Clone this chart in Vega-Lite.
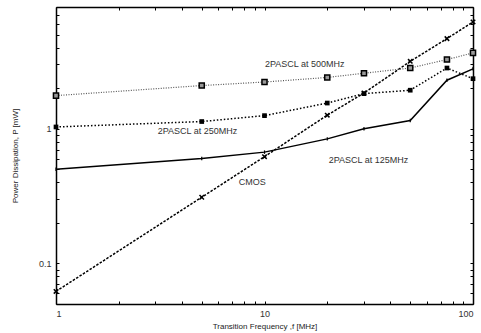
{
  "$schema": "https://vega.github.io/schema/vega-lite/v6.json",
  "width": 417,
  "height": 297,
  "autosize": {"type": "none"},
  "padding": {"left": 56, "top": 7, "right": 8, "bottom": 29},
  "background": "white",
  "config": {
    "view": {"stroke": null},
    "font": "Liberation Sans",
    "axis": {
      "grid": false,
      "domainColor": "black",
      "domainWidth": 1.5,
      "tickColor": "black",
      "tickWidth": 1,
      "labelFont": "Liberation Sans",
      "labelFontSize": 9,
      "labelColor": "#333",
      "titleFont": "Liberation Sans",
      "titleFontSize": 8,
      "titleFontWeight": "normal",
      "titleColor": "#222"
    }
  },
  "datasets": {
    "series": [
      {"series": "500", "f": 1, "p": 1.76},
      {"series": "500", "f": 5, "p": 2.09},
      {"series": "500", "f": 10, "p": 2.22},
      {"series": "500", "f": 20, "p": 2.40},
      {"series": "500", "f": 30, "p": 2.58},
      {"series": "500", "f": 50, "p": 2.82},
      {"series": "500", "f": 75, "p": 3.26},
      {"series": "500", "f": 100, "p": 3.65},
      {"series": "250", "f": 1, "p": 1.03},
      {"series": "250", "f": 5, "p": 1.13},
      {"series": "250", "f": 10, "p": 1.25},
      {"series": "250", "f": 20, "p": 1.55},
      {"series": "250", "f": 30, "p": 1.82},
      {"series": "250", "f": 50, "p": 1.93},
      {"series": "250", "f": 75, "p": 2.82},
      {"series": "250", "f": 100, "p": 2.35},
      {"series": "125", "f": 1, "p": 0.50},
      {"series": "125", "f": 5, "p": 0.60},
      {"series": "125", "f": 10, "p": 0.67},
      {"series": "125", "f": 20, "p": 0.84},
      {"series": "125", "f": 30, "p": 1.0},
      {"series": "125", "f": 50, "p": 1.15},
      {"series": "125", "f": 75, "p": 2.29},
      {"series": "125", "f": 100, "p": 2.78},
      {"series": "CMOS", "f": 1, "p": 0.062},
      {"series": "CMOS", "f": 5, "p": 0.31},
      {"series": "CMOS", "f": 10, "p": 0.62},
      {"series": "CMOS", "f": 20, "p": 1.26},
      {"series": "CMOS", "f": 30, "p": 1.84},
      {"series": "CMOS", "f": 50, "p": 3.16},
      {"series": "CMOS", "f": 75, "p": 4.66},
      {"series": "CMOS", "f": 100, "p": 6.2}
    ],
    "labels": [
      {"text": "2PASCL at 500MHz", "f": 15.6, "p": 3.02},
      {"text": "2PASCL at 250MHz", "f": 4.77, "p": 0.966},
      {"text": "2PASCL at 125MHz", "f": 31.5, "p": 0.589},
      {"text": "CMOS", "f": 8.74, "p": 0.40}
    ]
  },
  "layer": [
    {
      "data": {"name": "series"},
      "layer": [
        {
          "transform": [{"filter": "datum.series == '500'"}],
          "mark": {"type": "line", "color": "#555", "strokeWidth": 1.2, "strokeDash": [1, 1.5]},
          "encoding": {
            "x": {"field": "f", "type": "quantitative", "scale": {"type": "log", "domain": [1, 100], "nice": false},
              "axis": {"title": "Transition Frequency ,f [MHz]", "titlePadding": 4,
                "values": [1,2,3,4,5,6,7,8,9,10,20,30,40,50,60,70,80,90,100],
                "labelExpr": "datum.value == 1 || datum.value == 10 || datum.value == 100 ? format(datum.value, 'd') : ''",
                "tickSize": -3, "labelPadding": 8}},
            "y": {"field": "p", "type": "quantitative", "scale": {"type": "log", "domain": [0.05, 8], "nice": false},
              "axis": {"title": "Power Dissipation, P [mW]", "titlePadding": 19,
                "values": [0.05,0.06,0.07,0.08,0.09,0.1,0.2,0.3,0.4,0.5,0.6,0.7,0.8,0.9,1,2,3,4,5,6,7,8],
                "labelExpr": "datum.value == 0.1 ? '0.1' : (datum.value == 1 ? '1' : '')",
                "tickSize": -3, "labelPadding": 8}}
          }
        },
        {
          "transform": [{"filter": "datum.series == '250'"}],
          "mark": {"type": "line", "color": "black", "strokeWidth": 1.5, "strokeDash": [1.5, 2]},
          "encoding": {"x": {"field": "f", "type": "quantitative"}, "y": {"field": "p", "type": "quantitative"}}
        },
        {
          "transform": [{"filter": "datum.series == '125'"}],
          "mark": {"type": "line", "color": "black", "strokeWidth": 1.5},
          "encoding": {"x": {"field": "f", "type": "quantitative"}, "y": {"field": "p", "type": "quantitative"}}
        },
        {
          "transform": [{"filter": "datum.series == 'CMOS'"}],
          "mark": {"type": "line", "color": "black", "strokeWidth": 1.5, "strokeDash": [2.5, 1.5]},
          "encoding": {"x": {"field": "f", "type": "quantitative"}, "y": {"field": "p", "type": "quantitative"}}
        },
        {
          "transform": [{"filter": "datum.series == '500'"}],
          "mark": {"type": "point", "shape": "square", "size": 26, "filled": true, "fill": "#999", "stroke": "black", "strokeWidth": 1.5, "opacity": 1},
          "encoding": {"x": {"field": "f", "type": "quantitative"}, "y": {"field": "p", "type": "quantitative"}}
        },
        {
          "transform": [{"filter": "datum.series == '250'"}],
          "mark": {"type": "point", "shape": "square", "size": 22, "filled": true, "color": "black", "opacity": 1},
          "encoding": {"x": {"field": "f", "type": "quantitative"}, "y": {"field": "p", "type": "quantitative"}}
        },
        {
          "transform": [{"filter": "datum.series == '125'"}],
          "mark": {"type": "point", "shape": "M0,-1L0,1", "size": 12, "filled": false, "color": "black", "strokeWidth": 1.2, "opacity": 1},
          "encoding": {"x": {"field": "f", "type": "quantitative"}, "y": {"field": "p", "type": "quantitative"}}
        },
        {
          "transform": [{"filter": "datum.series == 'CMOS'"}],
          "mark": {"type": "point", "shape": "M-1,-1L1,1M1,-1L-1,1", "size": 20, "filled": false, "color": "black", "strokeWidth": 1.5, "opacity": 1},
          "encoding": {"x": {"field": "f", "type": "quantitative"}, "y": {"field": "p", "type": "quantitative"}}
        }
      ]
    },
    {
      "data": {"name": "labels"},
      "mark": {"type": "text", "font": "Liberation Sans", "fontSize": 9, "color": "#333", "align": "center", "baseline": "middle"},
      "encoding": {
        "x": {"field": "f", "type": "quantitative", "axis": null},
        "y": {"field": "p", "type": "quantitative", "axis": null},
        "text": {"field": "text"}
      }
    },
    {
      "data": {"name": "series"},
      "mark": {"type": "point", "opacity": 0},
      "encoding": {
        "x": {"field": "f", "type": "quantitative",
          "axis": {"orient": "top", "title": null, "labels": false,
            "values": [1,2,3,4,5,6,7,8,9,10,20,30,40,50,60,70,80,90,100], "tickSize": -3}},
        "y": {"field": "p", "type": "quantitative",
          "axis": {"orient": "right", "title": null, "labels": false,
            "values": [0.05,0.06,0.07,0.08,0.09,0.1,0.2,0.3,0.4,0.5,0.6,0.7,0.8,0.9,1,2,3,4,5,6,7,8], "tickSize": -3}}
      }
    }
  ],
  "resolve": {"axis": {"x": "independent", "y": "independent"}}
}
